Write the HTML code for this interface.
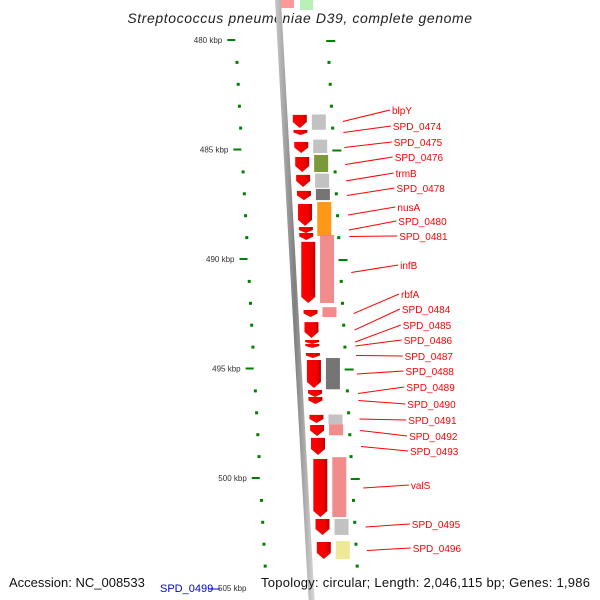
<!DOCTYPE html>
<html><head><meta charset="utf-8"><style>
html,body{margin:0;padding:0;background:#fff;}
svg{display:block;font-family:"Liberation Sans","DejaVu Sans",sans-serif;}
</style></head><body>
<svg id="map" width="600" height="600" viewBox="0 0 600 600">
<defs>
<linearGradient id="bb" x1="0" x2="1"><stop offset="0" stop-color="#c8c8c8"/><stop offset="0.5" stop-color="#808080"/><stop offset="1" stop-color="#d8d8d8"/></linearGradient>
<linearGradient id="rg" x1="0" x2="1"><stop offset="0" stop-color="#ff0000"/><stop offset="0.7" stop-color="#ee0000"/><stop offset="1" stop-color="#bb0000"/></linearGradient>
</defs>
<text x="300" y="23" text-anchor="middle" font-size="14" font-style="italic" letter-spacing="0.6" fill="#222">Streptococcus pneumoniae D39, complete genome</text>
<g id="layer"></g>
<text x="9" y="587" font-size="13" fill="#111">Accession: NC_008533</text>
<text x="261" y="587" font-size="13" fill="#111" textLength="329" lengthAdjust="spacing">Topology: circular; Length: 2,046,115 bp; Genes: 1,986</text>
<text x="160" y="592" font-size="11" fill="#0000dd">SPD_0499</text>
<line x1="208" y1="589" x2="220" y2="589" stroke="#0000dd"/>
<text x="218" y="591" font-size="8" fill="#333">505 kbp</text>
</svg>
<script>
const tickKbp=[480,485,490,495,500];
const geneStart=[483.42,484.11,484.66,485.34,486.16,486.89,487.49,488.54,488.81,489.22,492.33,492.88,493.70,493.88,494.29,494.61,495.98,496.30,497.12,497.58,498.17,499.13,501.87,502.92];
const geneEnd=[484.02,484.34,485.16,486.03,486.71,487.31,488.49,488.81,489.13,492.01,492.65,493.61,493.88,494.06,494.52,495.89,496.30,496.62,497.49,498.08,498.95,501.78,502.60,503.70];
const geneNames=["blpY","SPD_0474","SPD_0475","SPD_0476","trmB","SPD_0478","nusA","SPD_0480","SPD_0481","infB","rbfA","SPD_0484","SPD_0485","SPD_0486","SPD_0487","SPD_0488","SPD_0489","SPD_0490","SPD_0491","SPD_0492","SPD_0493","valS","SPD_0495","SPD_0496"];
const labelY=[110,126,142,157,173,188,207,221,236,265,294,309,325,340,356,371,387,404,420,436,451,485,524,548];
const cogStart=[483.40,484.55,485.25,486.10,486.80,487.40,488.90,492.20,494.52,497.10,497.55,499.05,501.87,502.88];
const cogEnd=[484.10,485.16,486.03,486.75,487.31,488.95,492.01,492.65,495.95,497.55,498.05,501.78,502.60,503.70];
const cogColors=["#bbbbbb","#bbbbbb","#6b8e23","#bbbbbb","#666666","#ff8c00","#f08080","#f08080","#666666","#bbbbbb","#f08080","#f08080","#bbbbbb","#f0e68c"];

const NS="http://www.w3.org/2000/svg";
const layer=document.getElementById('layer');
const yOf=k=>40+(k-480)*21.9;
const sl=y=>0.056*y;
function mk(t,a){const e=document.createElementNS(NS,t);for(const k in a)e.setAttribute(k,a[k]);layer.appendChild(e);return e;}

let bb=mk('polygon',{points:`275,0 281,0 ${281+sl(600)},600 ${275+sl(600)},600`,fill:'url(#bb)'});



for(let k=480;k<=505;k++){
  const y=yOf(k);const major=tickKbp.includes(k)||k===505;
  const lx=233+sl(y), rx=325+sl(y);
  if(k<505){
    let t=mk('rect',{x:major?lx-8:lx-1,y:y-1,width:major?8:3,height:major?2:3,fill:'#008000'});
    
    
    let r=mk('rect',{x:rx-1,y:y+(major?0:-1),width:major?9:3,height:major?2:3,fill:'#008000'});
    
    
  }
  if(tickKbp.includes(k)){
    let tx=mk('text',{x:lx-13,y:y+3,'font-size':8,fill:'#333','text-anchor':'end'});
    tx.textContent=k+' kbp';
    
    
  }
}

for(let i=0;i<cogStart.length;i++){
  const y1=yOf(cogStart[i]),y2=yOf(cogEnd[i]);const x=305+sl((y1+y2)/2);
  let r=mk('rect',{x:x,y:y1,width:14,height:y2-y1,fill:cogColors[i],opacity:0.9});
  
  
}

for(let i=0;i<geneStart.length;i++){
  const y1=yOf(geneStart[i]),y2=yOf(geneEnd[i]);const x=286+sl((y1+y2)/2);
  const h=y2-y1;const head=Math.min(6,h*0.5);
  let g=mk('polygon',{points:`${x},${y1} ${x+14},${y1} ${x+14},${y2-head} ${x+7},${y2} ${x},${y2-head}`,fill:'url(#rg)'});
  
  
  const ly=labelY[i];const lx=392+i*0.9;
  let ln=mk('line',{x1:342+sl((y1+y2)/2)-6,y1:(y1+y2)/2,x2:lx-2,y2:ly,stroke:'#ff0000','stroke-width':1});
  
  
  let t=mk('text',{x:lx,y:ly+4,'font-size':10,fill:'#ff0000'});
  t.textContent=geneNames[i];
  
  
}
let a=mk('rect',{x:281,y:0,width:13,height:8,fill:'#ff9999'});


let b=mk('rect',{x:300,y:0,width:13,height:10,fill:'#b8f0b8'});


</script>
</body></html>
